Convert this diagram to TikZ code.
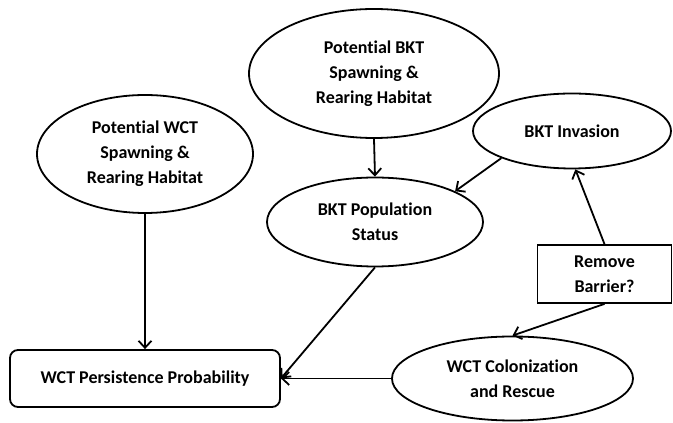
\documentclass[tikz,border=0pt]{standalone}
\usepackage{fontspec}
\setmainfont{Carlito}[Ligatures={NoCommon}]
\usetikzlibrary{shapes.geometric,arrows.meta}
\tikzset{oval/.style = {draw, fill=white, line width=1.8pt, ellipse, inner sep=0pt, align=center, font=\bfseries\fontsize{18}{25}\selectfont},
         box/.style = {draw, fill=white, line width=1.8pt, rectangle, inner sep=0pt, align=center, font=\bfseries\fontsize{18}{25}\selectfont},
         link/.style = {line width=1.8pt, -{Straight Barb[length=7pt,width=13pt,line width=1.8pt]}}}

\begin{document}
\begin{tikzpicture}[x=1pt,y=1pt]
    \useasboundingbox[fill=white](0,0)rectangle(673,423);
    \node[oval, minimum width=216, minimum height=118](wcthab)at(145,269){Potential WCT\\Spawning \&\\Rearing Habitat};
    \node[oval, minimum width=250, minimum height=129](bkthab)at(374,349.5){Potential BKT\\Spawning \&\\Rearing Habitat};
    \node[oval, minimum width=198, minimum height=75](bktinv)at(572,292){BKT Invasion};
    \node[oval, minimum width=216, minimum height=89](bktpop)at(375,201){BKT Population\\Status};
    \node[box, minimum width=134, minimum height=58](barrier)at(604.5,149){Remove\\Barrier?};
    \node[oval, minimum width=241, minimum height=84](wctcol)at(512.5,44.5){WCT Colonization\\and Rescue};
    \node[box, rounded corners=8pt, minimum width=270, minimum height=57](persist)at(145,44.5){WCT Persistence Probability};

    \draw[link](wcthab.south)--(persist.north);
    \draw[link](bkthab.south)--(bktpop.north);
    \draw[link](bktinv.201)--(bktpop.21);
    \draw[link](barrier.north)--(bktinv.275);
    \draw[link](barrier.south)--(wctcol.north);
    \draw[link](wctcol.west)--(persist.east);
    \draw[link](bktpop.south)--(persist.east);
\end{tikzpicture}
\end{document}
